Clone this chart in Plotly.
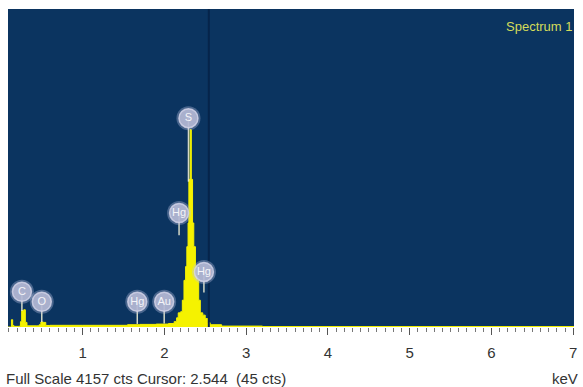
import plotly.graph_objects as go

# Spectrum (energy in keV, counts)
energy = [0.088, 0.12, 0.13, 0.145, 0.16, 0.22, 0.24, 0.255, 0.28, 0.30, 0.32, 0.44, 0.47, 0.49, 0.52, 0.55,
          0.60, 1.00, 1.55, 1.70, 1.90, 2.05, 2.12, 2.15, 2.17, 2.20, 2.22, 2.24, 2.26, 2.275, 2.29,
          2.30, 2.315, 2.33, 2.345, 2.36, 2.38, 2.40, 2.42, 2.44, 2.47, 2.50, 2.53, 2.56, 2.70, 3.20, 7.01]
counts = [0, 0, 95, 20, 8, 10, 70, 215, 225, 60, 15, 15, 30, 65, 60, 20,
          22, 22, 30, 34, 38, 45, 70, 120, 185, 200, 350, 610, 790, 1050, 1360,
          1930, 2580, 1930, 1360, 1050, 790, 610, 350, 185, 155, 110, 55, 30, 12, 6, 0]

# Element markers
label_text = ["C", "O", "Hg", "Au", "Hg", "Hg", "S"]
label_energy = [0.258, 0.501, 1.669, 1.998, 2.180, 2.484, 2.295]
label_counts = [460, 330, 330, 330, 1490, 720, 2730]
stem_bottom = [210, 65, 40, 45, 1200, 450, 1900]

full_scale = 4157
cursor_kev = 2.544
tick_vals = [1, 2, 3, 4, 5, 6, 7]

FONT = "Liberation Sans Narrow, Liberation Sans, Arial"

fig = go.Figure()

fig.add_trace(go.Scatter(
    x=energy, y=counts, mode="lines", line=dict(color="#f5f200", width=1, shape="hv"),
    fill="tozeroy", fillcolor="#f5f200", hoverinfo="skip", showlegend=False))

# cursor line
fig.add_trace(go.Scatter(
    x=[cursor_kev, cursor_kev], y=[0, full_scale], mode="lines",
    line=dict(color="#06244a", width=2), hoverinfo="skip", showlegend=False))

# stems
for e, yc, yb in zip(label_energy, label_counts, stem_bottom):
    fig.add_trace(go.Scatter(
        x=[e, e], y=[yb, yc], mode="lines",
        line=dict(color="rgba(235,235,210,0.9)", width=1.5), hoverinfo="skip", showlegend=False))

# glow
fig.add_trace(go.Scatter(
    x=label_energy, y=label_counts, mode="markers",
    marker=dict(size=24, color="rgba(190,195,225,0.35)", line=dict(width=0)),
    hoverinfo="skip", showlegend=False))
fig.add_trace(go.Scatter(
    x=label_energy, y=label_counts, mode="markers+text", text=label_text,
    textposition="middle center",
    textfont=dict(family=FONT, size=11, color="#f4f4f8"),
    marker=dict(size=19, color="rgba(180,184,212,0.9)", line=dict(width=1.5, color="rgba(215,215,235,0.8)")),
    hoverinfo="skip", showlegend=False))

fig.update_layout(
    width=583, height=387,
    margin=dict(l=8, r=6, t=9, b=60),
    paper_bgcolor="white", plot_bgcolor="#0b3460",
    showlegend=False,
    xaxis=dict(range=[0.088, 7.01], showgrid=False, zeroline=False,
               tickvals=tick_vals, ticks="outside", ticklen=7, tickwidth=1, tickcolor="#555555",
               minor=dict(dtick=0.1, tick0=0, ticks="outside", ticklen=4, tickcolor="#777777", tickwidth=1),
               tickfont=dict(family=FONT, size=15, color="#333333"),
               ticklabelstandoff=5, showline=False, fixedrange=True),
    yaxis=dict(range=[0, full_scale], visible=False, fixedrange=True),
    annotations=[
        dict(text="Spectrum 1", xref="paper", yref="paper", x=1.0, y=1.0, xanchor="right", yanchor="top",
             xshift=0, yshift=-8, showarrow=False,
             font=dict(family=FONT, size=13, color="#d4dc5a")),
        dict(text="Full Scale 4157 cts Cursor: 2.544  (45 cts)", xref="paper", yref="paper",
             x=0, y=0, xanchor="left", yanchor="middle", xshift=-4, yshift=-51, showarrow=False,
             font=dict(family=FONT, size=15, color="#333333")),
        dict(text="keV", xref="paper", yref="paper", x=1.0, y=0, xanchor="right", yanchor="middle",
             xshift=6, yshift=-51, showarrow=False,
             font=dict(family=FONT, size=15, color="#333333")),
    ],
)

fig.write_html("out.html", config={"displayModeBar": False},
               post_script="document.body.style.margin='0';document.body.style.padding='0';")
